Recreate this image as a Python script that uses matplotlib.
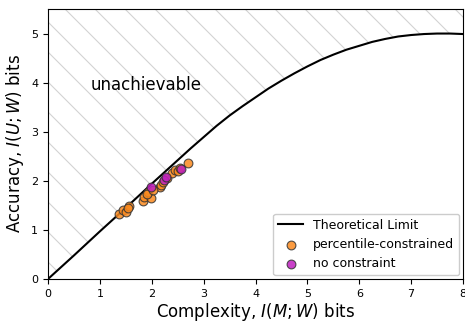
import numpy as np
import matplotlib
matplotlib.use("Agg")
import matplotlib.pyplot as plt

# theoretical limit curve
limit_x = [0, 0.5, 1, 1.5, 2, 2.5, 2.75, 3.0, 3.25, 3.5, 3.75, 4.0, 4.25, 4.5, 4.75,
           5.0, 5.25, 5.5, 5.75, 6.0, 6.25, 6.5, 6.75, 7.0, 7.25, 7.5, 7.75, 8.0]
limit_y = [0, 0.48, 0.97, 1.45, 1.94, 2.42, 2.66, 2.89, 3.12, 3.33, 3.52, 3.70, 3.88,
           4.04, 4.19, 4.33, 4.46, 4.57, 4.67, 4.75, 4.83, 4.89, 4.94, 4.97, 4.99,
           5.0, 5.0, 4.99]

# percentile-constrained runs
pc_x = [1.36, 1.45, 1.51, 1.57, 1.55, 1.83, 1.86, 1.98, 1.93, 1.90, 2.15, 2.18,
        2.22, 2.30, 2.39, 2.44, 2.50, 2.55, 2.70, 2.02]
pc_y = [1.32, 1.41, 1.37, 1.48, 1.45, 1.58, 1.68, 1.65, 1.78, 1.74, 1.87, 1.92,
        1.98, 2.05, 2.16, 2.22, 2.20, 2.26, 2.36, 1.82]

# unconstrained runs
nc_x = [1.99, 2.24, 2.28, 2.57]
nc_y = [1.87, 2.02, 2.07, 2.24]

fig = plt.figure(figsize=(4.65, 3.23), dpi=100)
ax = fig.add_axes([48 / 465, 44 / 323, 415 / 465, 270 / 323])

ax.set_xlim(0, 8)
ax.set_ylim(0, 5.5)

# hatched "unachievable" region, drawn as clipped diagonal lines
region = ax.fill_between(limit_x, limit_y, 5.5, facecolor='none', edgecolor='none')
clip = region.get_paths()[0]
h = 270 / 415
for a in np.arange(7 / 415 - 2, 1.2, 30 / 415):
    ln, = ax.plot([a, a + h], [1, 0], transform=ax.transAxes, color='#d3d3d3',
                  lw=0.8, zorder=1)
    ln.set_clip_path(clip, ax.transData)

ax.plot(limit_x, limit_y, color='black', lw=1.5, label='Theoretical Limit', zorder=3)
ax.scatter(pc_x, pc_y, s=40, color='#fb8a1e', alpha=0.85, edgecolors='#333333',
           linewidths=0.8, label='percentile-constrained', zorder=4)
ax.scatter(nc_x, nc_y, s=40, color='#c01fc0', alpha=0.85, edgecolors='#333333',
           linewidths=0.8, label='no constraint', zorder=5)

ax.text(0.83, 3.96, 'unachievable', fontsize=12, va='center', ha='left')

ax.set_xlabel('Complexity, $I(M;W)$ bits', fontsize=12, labelpad=1.5)
ax.set_ylabel('Accuracy, $I(U;W)$ bits', fontsize=12)
ax.set_xticks(range(0, 9))
ax.set_yticks(range(0, 6))
ax.tick_params(labelsize=8)

ax.legend(loc='lower right', fontsize=9, framealpha=1, borderaxespad=0.3)

fig.savefig('out.png', dpi=100)
